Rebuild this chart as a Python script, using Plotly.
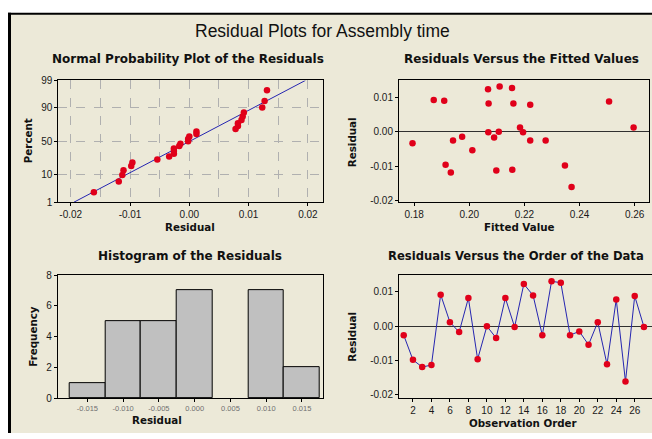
import plotly.graph_objects as go
from statistics import NormalDist, mean, stdev

# ---------------- data ----------------
observation = list(range(1, 28))
residuals = [-0.0026, -0.0098, -0.0119, -0.0113, 0.0092, 0.0012, -0.0017, 0.0082,
             -0.0096, 0.0000, -0.0034, 0.0082, -0.0002, 0.0123, 0.0090, -0.0026,
             0.0131, 0.0127, -0.0026, -0.0015, -0.0054, 0.0012, -0.0111, 0.0078,
             -0.0161, 0.0088, -0.0002]
fitted = [0.1941, 0.2347, 0.1933, 0.2098, 0.1871, 0.2184, 0.2090, 0.2070,
          0.1914, 0.2107, 0.1794, 0.2160, 0.2069, 0.2068, 0.1909, 0.2221,
          0.2110, 0.2155, 0.2277, 0.1974, 0.2011, 0.2596, 0.2156, 0.2221,
          0.2371, 0.2507, 0.2195]
percent_ticks = [1, 10, 50, 90, 99]
npp_x_ticks = [-0.02, -0.01, 0.00, 0.01, 0.02]
fit_x_ticks = [0.18, 0.20, 0.22, 0.24, 0.26]
res_y_ticks = [-0.02, -0.01, 0.00, 0.01]
hist_x_ticks = [-0.015, -0.010, -0.005, 0.000, 0.005, 0.010, 0.015]
hist_y_ticks = [0, 2, 4, 6, 8]
order_ticks = list(range(2, 27, 2))

W, H = 652, 439
FONT = "Liberation Sans, Arial, sans-serif"
BFONT = "DejaVu Sans, Verdana, sans-serif"
BG = "#ECE9D8"
RED = "#E0001A"
BLUE = "#2525B0"

nd = NormalDist()
n = len(residuals)
srt = sorted(residuals)
z_pts = [nd.inv_cdf((i + 1 - 0.3) / (n + 0.4)) for i in range(n)]
mu, sd = mean(residuals), stdev(residuals)
z_lo, z_hi = nd.inv_cdf(0.01), nd.inv_cdf(0.99)
line_z = [z_lo, z_hi]
line_x = [mu + sd * z for z in line_z]


def fmt(v, d):
    return f"{v:.{d}f}"


def px(x):
    return x / W


def py(y):
    return 1 - y / H


fig = go.Figure()

# Normal probability plot
fig.add_trace(go.Scatter(x=line_x, y=line_z, mode="lines", line=dict(color=BLUE, width=1),
                         xaxis="x", yaxis="y", hoverinfo="skip"))
fig.add_trace(go.Scatter(x=srt, y=z_pts, mode="markers", marker=dict(color=RED, size=6.5),
                         xaxis="x", yaxis="y"))
# Residuals vs fitted
fig.add_trace(go.Scatter(x=fitted, y=residuals, mode="markers", marker=dict(color=RED, size=6.5),
                         xaxis="x2", yaxis="y2"))
# Histogram
fig.add_trace(go.Histogram(x=residuals, xbins=dict(start=-0.0175, end=0.0175, size=0.005),
                           autobinx=False,
                           marker=dict(color="#C0C0C0", line=dict(color="#000000", width=1)),
                           xaxis="x3", yaxis="y3"))
# Residuals vs order
fig.add_trace(go.Scatter(x=observation, y=residuals, mode="lines+markers",
                         line=dict(color=BLUE, width=1), marker=dict(color=RED, size=6.5),
                         xaxis="x4", yaxis="y4"))

tickfont = dict(family=FONT, size=10, color="#1A1A1A")
base_ax = dict(showline=True, linecolor="#000000", linewidth=1, mirror=True,
               ticks="outside", ticklen=3, tickcolor="#000000", tickfont=tickfont,
               showgrid=False, zeroline=False, fixedrange=True)

top_dom = [py(201.7), py(76.5)]
bot_dom = [py(403.3), py(276.7)]
GRID = "#B0B0B0"

fig.update_layout(
    width=W, height=H, margin=dict(l=0, r=0, t=0, b=0),
    paper_bgcolor="#FFFFFF", plot_bgcolor="#FFFFFF", showlegend=False, bargap=0,
    xaxis=dict(base_ax, domain=[px(58.3), px(322.7)], range=[-0.0221, 0.0225], anchor="y",
               tickvals=npp_x_ticks, ticktext=[fmt(v, 2) for v in npp_x_ticks],
               showgrid=True, gridcolor=GRID, griddash="dash", gridwidth=1,
               minor=dict(dtick=0.005, tick0=-0.02, showgrid=True, gridcolor=GRID,
                          griddash="dash", gridwidth=1, ticks="")),
    yaxis=dict(base_ax, domain=top_dom, range=[z_lo, z_hi], anchor="x",
               tickvals=[nd.inv_cdf(p / 100) for p in percent_ticks],
               ticktext=[str(p) for p in percent_ticks],
               showgrid=True, gridcolor=GRID, griddash="dash", gridwidth=1),
    xaxis2=dict(base_ax, domain=[px(399), px(649.3)], range=[0.1745, 0.2653], anchor="y2",
                tickvals=fit_x_ticks, ticktext=[fmt(v, 2) for v in fit_x_ticks]),
    yaxis2=dict(base_ax, domain=top_dom, range=[-0.0205, 0.0149], anchor="x2",
                tickvals=res_y_ticks, ticktext=[fmt(v, 2) for v in res_y_ticks],
                zeroline=True, zerolinecolor="#303030", zerolinewidth=1),
    xaxis3=dict(base_ax, domain=[px(57.7), px(322.7)], range=[-0.01915, 0.0179], anchor="y3",
                tickvals=hist_x_ticks, ticktext=[fmt(v, 3) for v in hist_x_ticks],
                tickfont=dict(family=FONT, size=7.5, color="#707070")),
    yaxis3=dict(base_ax, domain=bot_dom, range=[0, 8], anchor="x3", tickvals=hist_y_ticks),
    xaxis4=dict(base_ax, domain=[px(399), 1.0], range=[0.49, 27.87], anchor="y4",
                tickvals=order_ticks),
    yaxis4=dict(base_ax, domain=bot_dom, range=[-0.021, 0.0149], anchor="x4",
                mirror=False, tickvals=res_y_ticks, ticktext=[fmt(v, 2) for v in res_y_ticks],
                zeroline=True, zerolinecolor="#303030", zerolinewidth=1),
)

# background panel and dark frame
fig.add_shape(type="rect", xref="paper", yref="paper", x0=px(9), x1=1.0, y0=0, y1=py(8),
              fillcolor=BG, line=dict(width=0), layer="below")
fig.add_shape(type="line", xref="paper", yref="paper", x0=px(9.5), x1=px(9.5), y0=0, y1=py(7),
              line=dict(color="#000000", width=3))
fig.add_shape(type="line", xref="paper", yref="paper", x0=px(8), x1=1.0, y0=py(8), y1=py(8),
              line=dict(color="#000000", width=2))

title_font = dict(family=BFONT, size=12, color="#111111")
lab_font = dict(family=BFONT, size=10.3, color="#111111")
ann = [
    dict(text="Residual Plots for Assembly time", x=px(322), y=py(26),
         font=dict(family=FONT, size=17.5, color="#111111")),
    dict(text="<b>Normal Probability Plot of the Residuals</b>", x=px(188), y=py(55), font=title_font),
    dict(text="<b>Residuals Versus the Fitted Values</b>", x=px(521), y=py(55), font=title_font),
    dict(text="<b>Histogram of the Residuals</b>", x=px(190), y=py(257), font=title_font),
    dict(text="<b>Residuals Versus the Order of the Data</b>", x=px(386), y=py(257),
         xanchor="left", font=dict(family=BFONT, size=11.6, color="#111111")),
    dict(text="<b>Residual</b>", x=px(190), y=py(227), font=lab_font),
    dict(text="<b>Percent</b>", x=px(28), y=py(139), textangle=-90, font=lab_font),
    dict(text="<b>Fitted Value</b>", x=px(519), y=py(227), font=lab_font),
    dict(text="<b>Residual</b>", x=px(352), y=py(140), textangle=-90, font=lab_font),
    dict(text="<b>Frequency</b>", x=px(33), y=py(340), textangle=-90, font=lab_font),
    dict(text="<b>Residual</b>", x=px(157), y=py(426), font=lab_font),
    dict(text="<b>Residual</b>", x=px(352), y=py(340), textangle=-90, font=lab_font),
    dict(text="<b>Observation Order</b>", x=px(523), y=py(429), font=lab_font),
]
for a in ann:
    a.setdefault("xanchor", "center")
    fig.add_annotation(xref="paper", yref="paper", yanchor="middle", showarrow=False, **a)

fig.write_html("out.html", config={"displayModeBar": False},
               post_script="document.body.style.margin='0px';")
